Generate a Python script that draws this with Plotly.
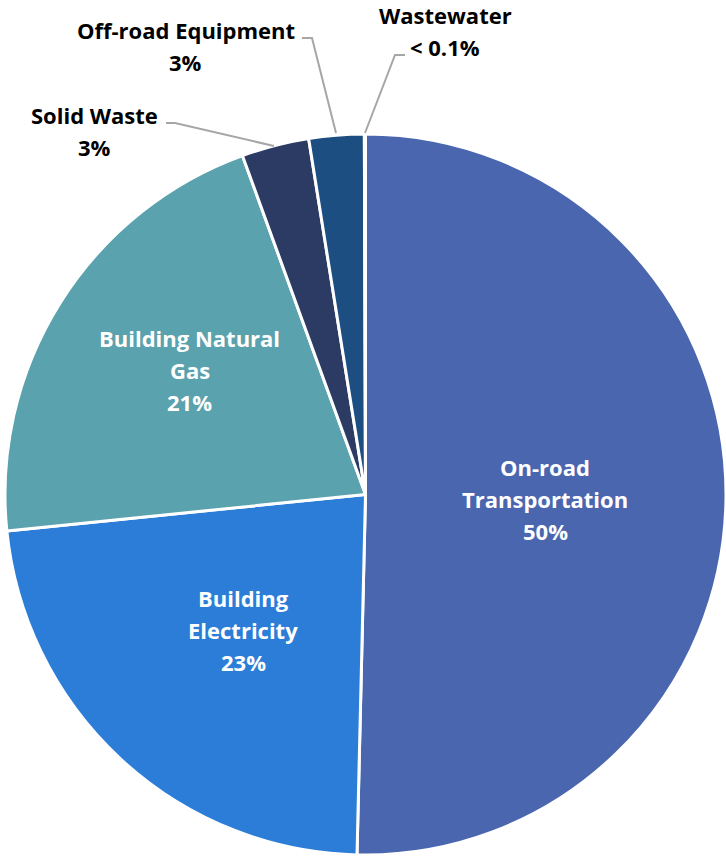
import plotly.graph_objects as go

labels = ["On-road Transportation", "Building Electricity", "Building Natural Gas",
          "Solid Waste", "Off-road Equipment", "Wastewater"]
values = [50.35, 23.0, 21.06, 3.02, 2.47, 0.05]
display_text = [["On-road", "Transportation", "50%"], ["Building", "Electricity", "23%"],
                ["Building Natural", "Gas", "21%"], ["Solid Waste", "3%"],
                ["Off-road Equipment", "3%"], ["Wastewater", "< 0.1%"]]
colors = ["#4A66AF", "#2B7DD8", "#5AA2AD", "#2C3B64", "#1D4E82", "#5B9BD5"]

# label block centres in pixels (x, y from top) and text colours
label_pos = [(545, 499), (243, 630), (190, 370), (94, 131), (186, 46), (445, 31)]
label_col = ["white", "white", "white", "black", "black", "black"]
line_gap = 32
leaders = [None, None, None,
           [(166, 123), (175, 123), (274, 146)],
           [(302, 38), (312, 38), (336, 133)],
           [(405, 55), (395, 55), (365, 133)]]

W, H = 726, 856

fig = go.Figure(go.Pie(
    labels=labels, values=values, sort=False, direction="clockwise", rotation=0,
    marker=dict(colors=colors, line=dict(color="white", width=3)),
    textinfo="none", hoverinfo="label+percent",
    domain=dict(x=[5.0 / W, 1.0], y=[0.0006, 0.8440]),
    showlegend=False,
))

annotations = []
for lines, (px, py), col in zip(display_text, label_pos, label_col):
    n = len(lines)
    for i, ln in enumerate(lines):
        ly = py + (i - (n - 1) / 2) * line_gap
        annotations.append(dict(
            x=px / W, y=1 - ly / H, xref="paper", yref="paper", text=ln,
            showarrow=False, xanchor="center", yanchor="middle", align="center",
            font=dict(family="Open Sans", size=22, color=col, weight="bold")))

shapes = []
for pts in leaders:
    if not pts:
        continue
    path = "M " + " L ".join(f"{x / W},{1 - y / H}" for x, y in pts)
    shapes.append(dict(type="path", path=path, xref="paper", yref="paper",
                       line=dict(color="#A6A6A6", width=2)))

fig.update_layout(
    width=W, height=H, margin=dict(l=0, r=0, t=0, b=0),
    paper_bgcolor="white", plot_bgcolor="white",
    annotations=annotations, shapes=shapes,
)

fig.write_html("out.html")
